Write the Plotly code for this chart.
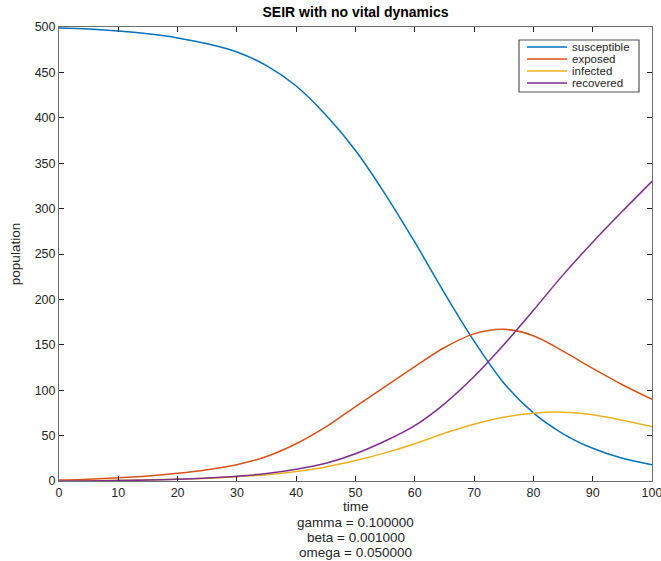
import plotly.graph_objects as go

# Time grid and compartment sizes of the SEIR run
time = [0, 5, 10, 15, 20, 25, 30, 35, 40, 45, 50,
        55, 60, 65, 70, 75, 80, 85, 90, 95, 100]
susceptible = [499, 497.8, 495.7, 492.5, 488, 481.5, 472.5, 457.5, 435, 403, 364,
               316, 263, 207, 154, 108, 75, 52, 36, 25, 18]
exposed = [1, 2, 3.5, 5.5, 8.5, 12.5, 18, 27, 41, 59.5, 82,
           104, 126, 147, 162, 167, 160, 143, 124, 106, 90]
infected = [0, 0.3, 0.7, 1.2, 2, 3, 4.8, 7, 10.5, 15.5, 22.5,
            31, 41, 52.5, 62.5, 70.2, 74.6, 75.8, 73, 67, 60]
recovered = [0, 0.1, 0.5, 1, 2, 3.3, 5.2, 8.2, 13, 19.5, 30,
             44, 61, 85, 115, 150, 188, 227, 263, 297, 330]

series_names = ["susceptible", "exposed", "infected", "recovered"]
series_values = [susceptible, exposed, infected, recovered]
series_colors = ["#0072BD", "#D95319", "#EDB120", "#7E2F8E"]

x_ticks = list(range(0, 101, 10))
y_ticks = list(range(0, 501, 50))

params = ["gamma = 0.100000", "beta = 0.001000", "omega = 0.050000"]

FONT = "Liberation Sans, Arial, sans-serif"
TEXT = "#262626"
AXIS = "#6e6e6e"

W, H = 661, 561
L, R, T, B = 59, 9, 27, 80
PW, PH = W - L - R, H - T - B


def px_x(px):
    return (px - L) / PW


def px_y(py):
    return (H - B - py) / PH


fig = go.Figure()
for name, vals, col in zip(series_names, series_values, series_colors):
    fig.add_trace(go.Scatter(
        x=time, y=vals, name=name, mode="lines",
        line=dict(color=col, width=1.5, shape="spline", smoothing=0.9),
        showlegend=False,
    ))

axis_common = dict(
    showline=True, linecolor=AXIS, linewidth=1, mirror="ticks",
    ticks="inside", ticklen=5, tickcolor=TEXT, tickwidth=1,
    showgrid=False, zeroline=False, ticklabeloverflow="allow",
    automargin=False,
    tickfont=dict(family=FONT, size=12.5, color=TEXT),
)

fig.update_layout(
    width=W, height=H,
    margin=dict(l=L, r=R, t=T, b=B),
    paper_bgcolor="white", plot_bgcolor="white",
    title=dict(text="<b>SEIR with no vital dynamics</b>",
               font=dict(family=FONT, size=14, color="#000000"),
               x=(L + PW / 2) / W, xanchor="center",
               y=1 - 12 / H, yanchor="middle"),
    xaxis=dict(range=[0, 100], tickvals=x_ticks, **axis_common),
    yaxis=dict(range=[0, 500], tickvals=y_ticks,
               title=dict(text="population",
                          font=dict(family=FONT, size=13.5, color=TEXT),
                          standoff=10),
               **axis_common),
)

# Caption under the x axis: axis name followed by the model parameters
caption = ["time"] + params
caption_y = [506.5, 522, 537, 552]
for txt, py in zip(caption, caption_y):
    fig.add_annotation(
        text=txt, xref="paper", yref="paper",
        x=0.5, y=px_y(py), xanchor="center", yanchor="middle",
        showarrow=False, font=dict(family=FONT, size=13.5, color=TEXT),
    )

# Boxed legend in the upper right corner
box = (519, 40, 639, 92)
fig.add_shape(type="rect", xref="paper", yref="paper",
              x0=px_x(box[0]), x1=px_x(box[2]),
              y0=px_y(box[3]), y1=px_y(box[1]),
              line=dict(color="#555555", width=1.2), fillcolor="white")
row_y = [47, 59, 71, 83]
for name, col, py in zip(series_names, series_colors, row_y):
    fig.add_shape(type="line", xref="paper", yref="paper",
                  x0=px_x(527), x1=px_x(567), y0=px_y(py), y1=px_y(py),
                  line=dict(color=col, width=1.5))
    fig.add_annotation(
        text=name, xref="paper", yref="paper",
        x=px_x(570), y=px_y(py), xanchor="left", yanchor="middle",
        showarrow=False, font=dict(family=FONT, size=11.5, color=TEXT),
    )

fig.write_html("out.html")
